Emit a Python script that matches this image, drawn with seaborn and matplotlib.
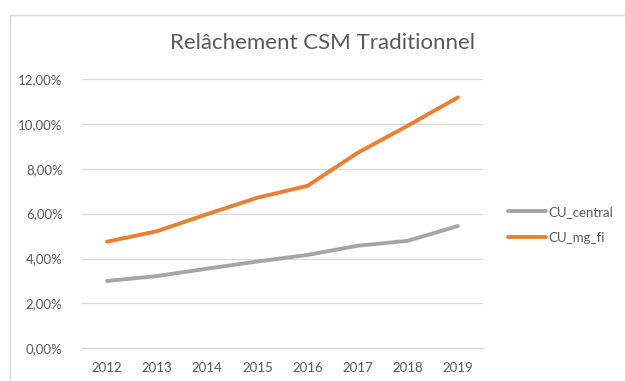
import matplotlib
matplotlib.use("Agg")
import matplotlib.pyplot as plt
from matplotlib.ticker import FuncFormatter, MultipleLocator
from matplotlib.lines import Line2D
import pandas as pd
import seaborn as sns

years = ["2012", "2013", "2014", "2015", "2016", "2017", "2018", "2019"]
cu_central = [3.00, 3.22, 3.55, 3.87, 4.16, 4.57, 4.79, 5.45]
cu_mg_fi = [4.75, 5.22, 5.98, 6.71, 7.24, 8.71, 9.92, 11.18]
series_names = ["CU_central", "CU_mg_fi"]
series_colors = ["#A5A5A5", "#ED7D31"]
title = "Relâchement CSM Traditionnel"

df = pd.DataFrame({
    "Année": years * 2,
    "Taux": cu_central + cu_mg_fi,
    "Série": [series_names[0]] * len(years) + [series_names[1]] * len(years),
})

sns.set_theme(style="white")
plt.rcParams["font.family"] = ["Lato", "DejaVu Sans"]

text_color = "#595959"
grid_color = "#D9D9D9"

fig = plt.figure(figsize=(6.25, 3.81), dpi=100)
ax = fig.add_axes([0.1312, 0.0858, 0.7728 - 0.1312, 0.7927 - 0.0858])

sns.lineplot(data=df, x="Année", y="Taux", hue="Série",
             palette=dict(zip(series_names, series_colors)),
             linewidth=2.8, ax=ax, legend=False, sort=False)
for ln in ax.lines:
    ln.set_solid_capstyle("round")
    ln.set_solid_joinstyle("round")

ax.set_xlim(-0.5, len(years) - 0.5)
ax.set_ylim(0, 12)
ax.yaxis.set_major_locator(MultipleLocator(2))
ax.yaxis.set_major_formatter(FuncFormatter(lambda v, p: f"{v:.2f}%".replace(".", ",")))
ax.grid(axis="y", color=grid_color, linewidth=0.9)
ax.set_axisbelow(True)
for side in ["top", "right", "left"]:
    ax.spines[side].set_visible(False)
ax.spines["bottom"].set_color(grid_color)
ax.spines["bottom"].set_linewidth(0.9)
ax.tick_params(axis="both", length=0, colors=text_color, labelsize=9.5)
ax.tick_params(axis="y", pad=14)
ax.tick_params(axis="x", pad=10)
ax.set_xlabel("")
ax.set_ylabel("")

fig.text(0.516, 0.886, title, ha="center", va="center",
         fontsize=16, color=text_color)

handles = [Line2D([0], [0], color=c, linewidth=2.8) for c in series_colors]
leg = fig.legend(handles, series_names, loc="center left",
                 bbox_to_anchor=(0.794, 0.41), frameon=False,
                 fontsize=9.5, handlelength=2.9, handletextpad=0.15,
                 labelspacing=1.1, labelcolor=text_color)

# chart area border (left and top edges)
fig.add_artist(Line2D([0.016, 0.016], [0.0, 0.961], transform=fig.transFigure,
                      color=grid_color, linewidth=1.0))
fig.add_artist(Line2D([0.016, 1.0], [0.961, 0.961], transform=fig.transFigure,
                      color=grid_color, linewidth=1.0))

fig.savefig("out.png", dpi=100, facecolor="white")
